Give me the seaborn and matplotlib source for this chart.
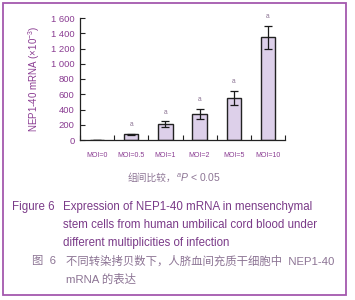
import matplotlib
matplotlib.use("Agg")
import matplotlib.pyplot as plt
import seaborn as sns
import pandas as pd
from matplotlib.patches import Rectangle

categories = ["MOI=0", "MOI=0.5", "MOI=1", "MOI=2", "MOI=5", "MOI=10"]
values = [0, 75, 210, 340, 555, 1345]
errors = [0, 8, 35, 68, 90, 150]
sig_labels = ["", "a", "a", "a", "a", "a"]
y_ticks = [0, 200, 400, 600, 800, 1000, 1200, 1400, 1600]
y_tick_labels = ["0", "200", "400", "600", "800", "1 000", "1 200", "1 400", "1 600"]

sns.set_theme(style="white")
plt.rcParams['font.family'] = ['Liberation Sans', 'Noto Sans CJK SC', 'DejaVu Sans']
plt.rcParams['mathtext.fontset'] = 'custom'
plt.rcParams['mathtext.rm'] = 'Liberation Sans'
plt.rcParams['mathtext.it'] = 'Liberation Sans:italic'

W, H = 355, 300
fig = plt.figure(figsize=(W / 100, H / 100), dpi=100)
fig.patch.set_facecolor("white")

purple = "#8a3c92"
grey_purple = "#8c7494"

# border
fig.add_artist(Rectangle((3 / W, 1 - 295 / H), 343 / W, 292 / H, transform=fig.transFigure,
                         fill=False, edgecolor="#a458ae", linewidth=1.3))

ax = fig.add_axes([80 / W, 1 - 140 / H, 205 / W, 122 / H])
df = pd.DataFrame({"MOI": categories, "value": values})
sns.barplot(data=df, x="MOI", y="value", ax=ax, color="#ddd0ea", width=0.42,
            edgecolor="#222222", linewidth=1.0, errorbar=None, saturation=1)
xs = list(range(len(categories)))
ax.errorbar(xs, values, yerr=errors, fmt="none", ecolor="#1a1a1a", elinewidth=0.9,
            capsize=2.6, capthick=0.9)
for x, v, e, s in zip(xs, values, errors, sig_labels):
    if s:
        ax.annotate(s, (x, v + e), xytext=(0, 4), textcoords="offset points",
                    ha="center", va="bottom", fontsize=4.8, color=grey_purple)

ax.set_xlim(-0.5, len(categories) - 0.5)
ax.set_ylim(0, 1600)
ax.set_yticks(y_ticks)
ax.set_yticklabels(y_tick_labels)
ax.set_xticks(xs)
ax.set_xticklabels(categories)
ax.set_xticks([i - 0.5 for i in range(len(categories) + 1)], minor=True)
ax.tick_params(axis="x", which="major", length=0, pad=8.5, labelsize=5.0, labelcolor=purple)
ax.tick_params(axis="x", which="minor", direction="in", length=3.5, width=0.8, color="#222222", bottom=True)
ax.tick_params(axis="y", direction="in", length=3.5, width=0.8, color="#222222", left=True,
               labelsize=6.8, labelcolor=purple, pad=4)
for sp in ["top", "right"]:
    ax.spines[sp].set_visible(False)
for sp in ["left", "bottom"]:
    ax.spines[sp].set_color("#222222")
    ax.spines[sp].set_linewidth(0.9)
ax.set_xlabel("")
ax.set_ylabel(r"NEP1-40 mRNA ($\times$10$^{-3}$)", fontsize=7.0, color=purple, labelpad=6)
ax.patch.set_alpha(0)

fig.text(176 / W, 1 - 178 / H, "组间比较，", ha="right", va="center",
         fontsize=7, color=grey_purple)
fig.text(176 / W, 1 - 178 / H, "$^{a}\\mathit{P}$ < 0.05", ha="left", va="center",
         fontsize=7.5, color=grey_purple)

cap_color = "#7a3a88"
fs = 8.3
fs_cn = 8.2
fig.text(12 / W, 1 - 207 / H, "Figure 6", ha="left", va="center", fontsize=fs, color=cap_color)
fig.text(63 / W, 1 - 207 / H, "Expression of NEP1-40 mRNA in mensenchymal", ha="left", va="center",
         fontsize=fs, color=cap_color)
fig.text(63 / W, 1 - 225 / H, "stem cells from human umbilical cord blood under", ha="left", va="center",
         fontsize=fs, color=cap_color)
fig.text(63 / W, 1 - 243 / H, "different multiplicities of infection", ha="left", va="center",
         fontsize=fs, color=cap_color)
fig.text(32 / W, 1 - 261 / H, "图  6", ha="left", va="center", fontsize=fs_cn, color=grey_purple)
fig.text(66 / W, 1 - 261 / H, "不同转染拷贝数下，人脐血间充质干细胞中  NEP1-40", ha="left", va="center",
         fontsize=fs_cn, color=grey_purple)
fig.text(66 / W, 1 - 279 / H, "mRNA 的表达", ha="left", va="center", fontsize=fs_cn, color=grey_purple)

fig.savefig("out.png", dpi=100, facecolor="white")
